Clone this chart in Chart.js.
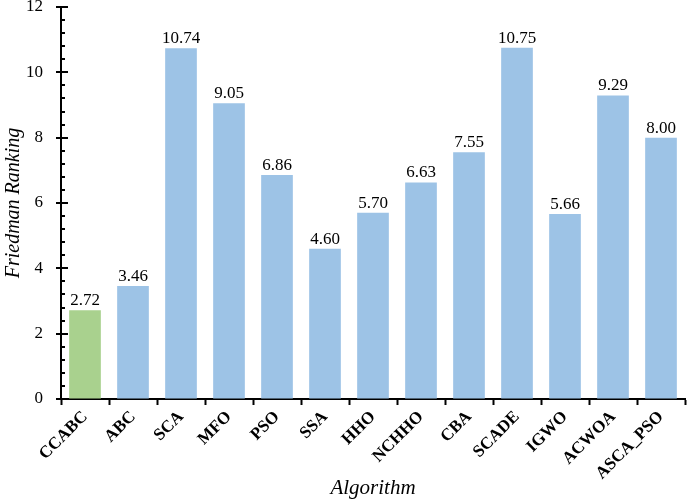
<!DOCTYPE html>
<html>
<head>
<meta charset="utf-8">
<script src="https://cdn.jsdelivr.net/npm/chart.js@4"></script>
<style>
  html, body { margin: 0; padding: 0; background: #fff; }
  #wrap { width: 688px; height: 503px; }
</style>
</head>
<body>
<div id="wrap"><canvas id="chart"></canvas></div>
<script>
const algorithms = ['CCABC', 'ABC', 'SCA', 'MFO', 'PSO', 'SSA', 'HHO', 'NCHHO', 'CBA', 'SCADE', 'IGWO', 'ACWOA', 'ASCA_PSO'];
const rankings = [2.72, 3.46, 10.74, 9.05, 6.86, 4.60, 5.70, 6.63, 7.55, 10.75, 5.66, 9.29, 8.00];
const barColors = ['#A9D18E', '#9DC3E6', '#9DC3E6', '#9DC3E6', '#9DC3E6', '#9DC3E6', '#9DC3E6',
                   '#9DC3E6', '#9DC3E6', '#9DC3E6', '#9DC3E6', '#9DC3E6', '#9DC3E6'];

const serif = '"Liberation Serif", "Times New Roman", serif';

// value labels above each bar
const valueLabels = {
    id: 'valueLabels',
    afterDatasetsDraw(chart) {
        const ctx = chart.ctx;
        const meta = chart.getDatasetMeta(0);
        ctx.save();
        ctx.font = '17px ' + serif;
        ctx.fillStyle = '#000';
        ctx.textAlign = 'center';
        ctx.textBaseline = 'bottom';
        meta.data.forEach((bar, i) => {
            ctx.fillText(rankings[i].toFixed(2), bar.x, bar.y - 1);
        });
        ctx.restore();
    }
};

// y axis major ticks crossing the axis plus inner minor ticks
const yTicks = {
    id: 'yTicks',
    afterDraw(chart) {
        const ctx = chart.ctx;
        const y = chart.scales.y;
        const x0 = chart.chartArea.left;
        ctx.save();
        ctx.strokeStyle = '#000';
        ctx.lineWidth = 2;
        for (let v = 0; v <= 12.001; v += 0.4) {
            const py = Math.round(y.getPixelForValue(v));
            const major = Math.abs(v / 2 - Math.round(v / 2)) < 0.01;
            ctx.beginPath();
            if (major) {
                ctx.moveTo(x0 - 5, py);
                ctx.lineTo(x0 + 7, py);
            } else {
                ctx.moveTo(x0, py);
                ctx.lineTo(x0 + 4, py);
            }
            ctx.stroke();
        }
        ctx.restore();
    }
};

new Chart(document.getElementById('chart'), {
    type: 'bar',
    data: {
        labels: algorithms,
        datasets: [{
            data: rankings,
            backgroundColor: barColors,
            barPercentage: 0.66,
            categoryPercentage: 1.0
        }]
    },
    options: {
        responsive: true,
        maintainAspectRatio: false,
        animation: false,
        devicePixelRatio: 1,
        layout: { padding: { top: 7, right: 3, left: 2, bottom: 2 } },
        plugins: {
            legend: { display: false },
            tooltip: { enabled: false }
        },
        scales: {
            x: {
                offset: true,
                afterFit(scale) {
                    scale.height = 102;
                    scale.paddingLeft = 0;
                    scale.paddingRight = 0;
                },
                grid: {
                    offset: true,
                    drawOnChartArea: false,
                    drawTicks: true,
                    tickLength: 6,
                    tickWidth: 2,
                    tickColor: '#000'
                },
                border: { color: '#000', width: 2 },
                ticks: {
                    color: '#000',
                    font: { family: serif, size: 17, weight: 'bold' },
                    minRotation: 45,
                    maxRotation: 45,
                    padding: 2,
                    autoSkip: false
                },
                title: {
                    display: true,
                    text: 'Algorithm',
                    color: '#000',
                    font: { family: serif, size: 21, style: 'italic' },
                    padding: { top: 6, bottom: 0 }
                }
            },
            y: {
                min: 0,
                max: 12,
                afterFit(scale) {
                    scale.width = 59;
                    scale.paddingTop = 0;
                    scale.paddingBottom = 0;
                },
                ticks: {
                    stepSize: 2,
                    color: '#000',
                    font: { family: serif, size: 17 },
                    padding: 18
                },
                grid: {
                    drawOnChartArea: false,
                    drawTicks: false,
                    tickLength: 0
                },
                border: { color: '#000', width: 2 },
                title: {
                    display: true,
                    text: 'Friedman Ranking',
                    color: '#000',
                    font: { family: serif, size: 20, style: 'italic' },
                    padding: { top: 0, bottom: 2 }
                }
            }
        }
    },
    plugins: [valueLabels, yTicks]
});
</script>
</body>
</html>
